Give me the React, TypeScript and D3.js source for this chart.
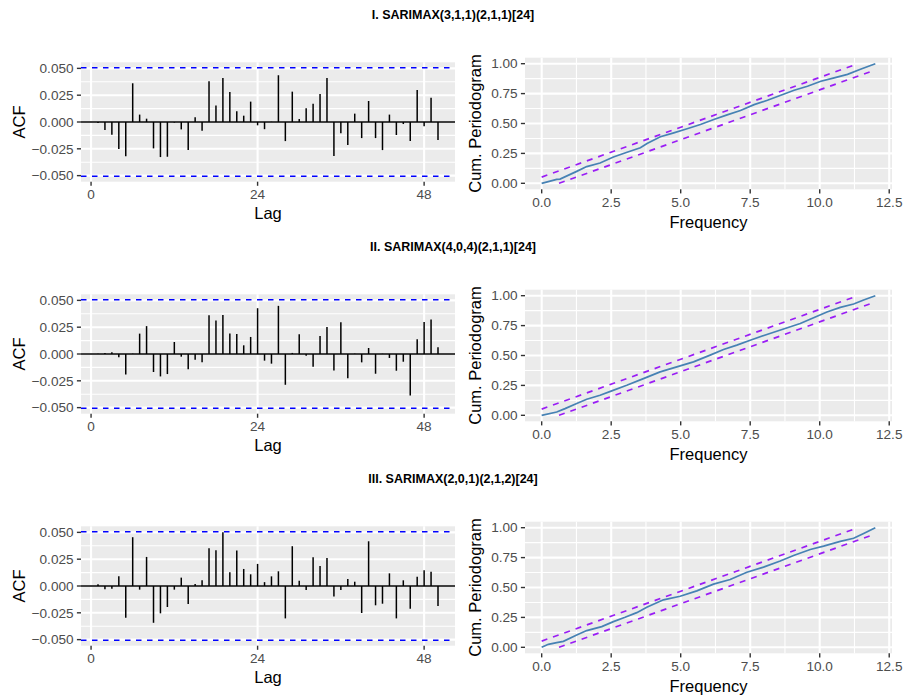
import React from "react";
import * as d3 from "d3";

const W = 906;
const H = 696;

const titles = [
  "I. SARIMAX(3,1,1)(2,1,1)[24]",
  "II. SARIMAX(4,0,4)(2,1,1)[24]",
  "III. SARIMAX(2,0,1)(2,1,2)[24]",
];

const lags = [
  1, 2, 3, 4, 5, 6, 7, 8, 9, 10, 11, 12, 13, 14, 15, 16, 17, 18, 19, 20, 21, 22, 23, 24, 25,
  26, 27, 28, 29, 30, 31, 32, 33, 34, 35, 36, 37, 38, 39, 40, 41, 42, 43, 44, 45, 46, 47, 48, 49, 50,
];

const acf1 = [
  -0.001, -0.0075, -0.0118, -0.0252, -0.032, 0.0361, 0.0069, 0.0031, -0.0246, -0.0327,
  -0.0324, -0.0005, -0.0069, -0.0262, 0.0044, -0.0081, 0.038, 0.0153, 0.0411, 0.028,
  0.010, 0.0059, 0.019, -0.0031, -0.0067, 0.0002, 0.0436, -0.0178, 0.0283, 0.0028,
  0.0128, 0.0171, 0.0262, 0.0411, -0.0318, -0.0106, -0.0215, 0.0078, -0.015, 0.0196,
  -0.015, -0.0262, 0.0069, -0.0121, -0.0019, -0.0178, 0.0299, -0.004, 0.0227, -0.0168,
];
const acf2 = [
  0.0003, 0.001, 0.0016, -0.003, -0.019, 0.0003, 0.019, 0.026, -0.0168, -0.0209,
  -0.0187, 0.0112, -0.0025, -0.0143, -0.0053, -0.0078, 0.0361, 0.0312, 0.0364, 0.019,
  0.0187, 0.0081, 0.0159, 0.0427, -0.0062, -0.009, 0.0449, -0.0287, 0.001, 0.0184,
  -0.0016, -0.0118, 0.0168, 0.0252, -0.0153, 0.0296, -0.0227, 0.0003, -0.0078, 0.0056,
  -0.0184, 0.0002, -0.0037, -0.0156, -0.0072, -0.0386, 0.0137, 0.0299, 0.0321, 0.0062,
];
const acf3 = [
  0.0016, -0.0031, -0.0025, 0.009, -0.0296, 0.0455, -0.0034, 0.0271, -0.0343, -0.0255,
  -0.0196, -0.0034, 0.0078, -0.0168, 0.0019, 0.0053, 0.0352, 0.0333, 0.0502, 0.0128,
  0.033, 0.0159, 0.0109, 0.0206, 0.0036, 0.009, 0.0137, -0.0302, 0.0371, 0.005,
  -0.0037, 0.0268, 0.0187, 0.0262, -0.0097, -0.0037, 0.0065, 0.004, -0.0252, 0.0417,
  -0.018, -0.0165, 0.0118, -0.0302, 0.0053, -0.0212, 0.0087, 0.0146, 0.0134, -0.0187,
];

const cpFreq1 = [0, 0.54, 0.66, 1.26, 1.62, 2.1, 2.58, 3.07, 3.55, 3.79, 4.27, 4.75, 5.23, 5.71, 6.19, 6.67, 7.15, 7.64, 8.12, 8.6, 9.08, 9.56, 10.04, 10.52, 11.0, 11.49, 12.0];
const cpVal1 = [0, 0.033, 0.035, 0.1, 0.14, 0.17, 0.22, 0.26, 0.297, 0.333, 0.389, 0.422, 0.456, 0.492, 0.533, 0.572, 0.608, 0.658, 0.694, 0.736, 0.778, 0.811, 0.853, 0.881, 0.911, 0.956, 1.0];
const cpFreq2 = [0, 0.54, 0.84, 1.26, 1.62, 2.1, 2.52, 3.06, 3.66, 4.26, 4.86, 5.46, 6.06, 6.54, 7.02, 7.5, 8.1, 8.7, 9.3, 9.78, 10.26, 10.74, 11.22, 11.58, 12.0];
const cpVal2 = [0, 0.028, 0.056, 0.098, 0.134, 0.168, 0.204, 0.251, 0.307, 0.363, 0.405, 0.447, 0.503, 0.55, 0.587, 0.628, 0.676, 0.721, 0.768, 0.816, 0.863, 0.902, 0.93, 0.964, 1.0];
const cpFreq3 = [0, 0.24, 0.54, 0.78, 1.26, 1.62, 2.16, 2.58, 3.0, 3.42, 3.78, 4.38, 4.98, 5.58, 6.18, 6.78, 7.38, 7.98, 8.58, 9.06, 9.66, 10.14, 10.74, 11.22, 11.58, 12.0];
const cpVal3 = [0, 0.025, 0.039, 0.05, 0.103, 0.14, 0.173, 0.215, 0.251, 0.29, 0.335, 0.397, 0.427, 0.472, 0.528, 0.567, 0.628, 0.67, 0.721, 0.768, 0.818, 0.846, 0.885, 0.912, 0.952, 1.0];

const acfTicks = [-0.05, -0.025, 0, 0.025, 0.05];
const acfMinor = [-0.0375, -0.0125, 0.0125, 0.0375];
const lagTicks = [0, 24, 48];
const cpYTicks = [0, 0.25, 0.5, 0.75, 1];
const cpYMinor = [0.125, 0.375, 0.625, 0.875];
const cpXTicks = [0, 2.5, 5, 7.5, 10, 12.5];
const cpXMinor = [1.25, 3.75, 6.25, 8.75, 11.25];

const ACF_CI = 0.0506;
const CP_CRIT = 0.052;
const MAX_FREQ = 12;

const acfSets = [acf1, acf2, acf3];
const cpSets = [
  [cpFreq1, cpVal1],
  [cpFreq2, cpVal2],
  [cpFreq3, cpVal3],
];

const FONT = "'Liberation Sans', Arial, Helvetica, sans-serif";
const BG = "#EBEBEB";
const TICK_COL = "#333333";
const LAB_COL = "#4D4D4D";
const ROW_H = 232;
const TICK_FS = 13.6;

const fmtMinus = (s: string) => s.replace("-", "\u2212");

function AcfPanel({ data, oy }: { data: number[]; oy: number }) {
  const x0 = 81, x1 = 455, y0 = 62.3 + oy, y1 = 181.7 + oy;
  const lagExt = d3.extent(lags) as [number, number];
  const lagPad = (lagExt[1] - lagExt[0]) * 0.05;
  const x = d3.scaleLinear().domain([lagExt[0] - lagPad, lagExt[1] + lagPad]).range([x0, x1]);
  const yExt = ACF_CI * 1.1;
  const y = d3.scaleLinear().domain([-yExt, yExt]).range([y1, y0]);
  const fy = d3.format(".3f");
  return (
    <g>
      <rect x={x0} y={y0} width={x1 - x0} height={y1 - y0} fill={BG} />
      {acfMinor.map((v) => (
        <line key={"m" + v} x1={x0} x2={x1} y1={y(v)} y2={y(v)} stroke="#fff" strokeWidth={1.07} />
      ))}
      {acfTicks.map((v) => (
        <line key={"g" + v} x1={x0} x2={x1} y1={y(v)} y2={y(v)} stroke="#fff" strokeWidth={2.1} />
      ))}
      {lagTicks.map((v) => (
        <line key={"v" + v} x1={x(v)} x2={x(v)} y1={y0} y2={y1} stroke="#fff" strokeWidth={2.1} />
      ))}
      <line x1={x0} x2={x1} y1={y(0)} y2={y(0)} stroke="#000" strokeWidth={1.5} />
      {data.map((v, i) => (
        <line key={i} x1={x(lags[i])} x2={x(lags[i])} y1={y(0)} y2={y(v)} stroke="#000" strokeWidth={1.5} />
      ))}
      {[ACF_CI, -ACF_CI].map((v) => (
        <line key={"ci" + v} x1={x0} x2={x1} y1={y(v)} y2={y(v)} stroke="#0000FF" strokeWidth={1.5} strokeDasharray="5.5,5.5" />
      ))}
      {acfTicks.map((v) => (
        <g key={"t" + v}>
          <line x1={x0 - 4.1} x2={x0} y1={y(v)} y2={y(v)} stroke={TICK_COL} strokeWidth={1.4} />
          <text x={x0 - 7.4} y={y(v) + 4.8} textAnchor="end" fontSize={TICK_FS} fill={LAB_COL} fontFamily={FONT}>
            {fmtMinus(fy(v))}
          </text>
        </g>
      ))}
      {lagTicks.map((v) => (
        <g key={"xt" + v}>
          <line x1={x(v)} x2={x(v)} y1={y1} y2={y1 + 4.1} stroke={TICK_COL} strokeWidth={1.4} />
          <text x={x(v)} y={y1 + 17.5} textAnchor="middle" fontSize={TICK_FS} fill={LAB_COL} fontFamily={FONT}>
            {String(v)}
          </text>
        </g>
      ))}
      <text x={(x0 + x1) / 2} y={y1 + 37} textAnchor="middle" fontSize={16.5} fill="#000" fontFamily={FONT}>
        Lag
      </text>
      <text
        transform={`translate(${25},${(y0 + y1) / 2}) rotate(-90)`}
        textAnchor="middle"
        fontSize={16.5}
        fill="#000"
        fontFamily={FONT}
      >
        ACF
      </text>
    </g>
  );
}

function CpPanel({ freq, vals, oy }: { freq: number[]; vals: number[]; oy: number }) {
  const x0 = 525, x1 = 892, y0 = 57.7 + oy, y1 = 189.3 + oy;
  const x = d3.scaleLinear().domain([-0.05 * MAX_FREQ, MAX_FREQ * 1.05]).range([x0, x1]);
  const y = d3.scaleLinear().domain([-0.05, 1.05]).range([y1, y0]);
  const line = d3
    .line<number>()
    .x((_, i) => x(freq[i]))
    .y((d) => y(d));
  const fy = d3.format(".2f");
  const fx = d3.format(".1f");
  const upper: [number, number][] = [
    [0, CP_CRIT],
    [MAX_FREQ * (1 - CP_CRIT), 1],
  ];
  const lower: [number, number][] = [
    [MAX_FREQ * CP_CRIT, 0],
    [MAX_FREQ, 1 - CP_CRIT],
  ];
  return (
    <g>
      <rect x={x0} y={y0} width={x1 - x0} height={y1 - y0} fill={BG} />
      {cpYMinor.map((v) => (
        <line key={"ym" + v} x1={x0} x2={x1} y1={y(v)} y2={y(v)} stroke="#fff" strokeWidth={1.07} />
      ))}
      {cpXMinor.map((v) => (
        <line key={"xm" + v} x1={x(v)} x2={x(v)} y1={y0} y2={y1} stroke="#fff" strokeWidth={1.07} />
      ))}
      {cpYTicks.map((v) => (
        <line key={"yg" + v} x1={x0} x2={x1} y1={y(v)} y2={y(v)} stroke="#fff" strokeWidth={2.1} />
      ))}
      {cpXTicks.map((v) => (
        <line key={"xg" + v} x1={x(v)} x2={x(v)} y1={y0} y2={y1} stroke="#fff" strokeWidth={2.1} />
      ))}
      <path d={line(vals) || ""} fill="none" stroke="#4682B4" strokeWidth={1.7} />
      {[upper, lower].map((seg, k) => (
        <line
          key={"b" + k}
          x1={x(seg[0][0])}
          y1={y(seg[0][1])}
          x2={x(seg[1][0])}
          y2={y(seg[1][1])}
          stroke="#9A1DF5"
          strokeWidth={1.7}
          strokeDasharray="6,6"
        />
      ))}
      {cpYTicks.map((v) => (
        <g key={"t" + v}>
          <line x1={x0 - 4.1} x2={x0} y1={y(v)} y2={y(v)} stroke={TICK_COL} strokeWidth={1.4} />
          <text x={x0 - 7.4} y={y(v) + 4.8} textAnchor="end" fontSize={TICK_FS} fill={LAB_COL} fontFamily={FONT}>
            {fy(v)}
          </text>
        </g>
      ))}
      {cpXTicks.map((v) => (
        <g key={"xt" + v}>
          <line x1={x(v)} x2={x(v)} y1={y1} y2={y1 + 4.1} stroke={TICK_COL} strokeWidth={1.4} />
          <text x={x(v)} y={y1 + 17.5} textAnchor="middle" fontSize={TICK_FS} fill={LAB_COL} fontFamily={FONT}>
            {fx(v)}
          </text>
        </g>
      ))}
      <text x={(x0 + x1) / 2} y={y1 + 38.5} textAnchor="middle" fontSize={16.5} fill="#000" fontFamily={FONT}>
        Frequency
      </text>
      <text
        transform={`translate(${481},${(y0 + y1) / 2}) rotate(-90)`}
        textAnchor="middle"
        fontSize={16.5}
        fill="#000"
        fontFamily={FONT}
      >
        Cum. Periodogram
      </text>
    </g>
  );
}

export default function App() {
  return (
    <svg width={W} height={H} style={{ position: "absolute", left: 0, top: 0, background: "#fff" }}>
      <rect width={W} height={H} fill="#fff" />
      {titles.map((t, r) => (
        <g key={r}>
          <text x={W / 2} y={r * ROW_H + 18.5} textAnchor="middle" fontSize={12.5} fontWeight="bold" fontFamily={FONT} fill="#000">
            {t}
          </text>
          <AcfPanel data={acfSets[r]} oy={r * ROW_H} />
          <CpPanel freq={cpSets[r][0]} vals={cpSets[r][1]} oy={r * ROW_H} />
        </g>
      ))}
    </svg>
  );
}
